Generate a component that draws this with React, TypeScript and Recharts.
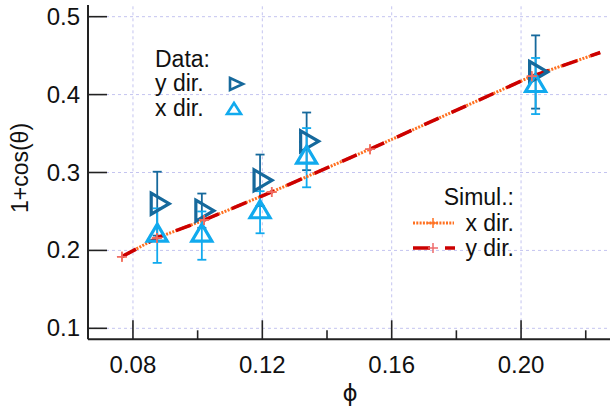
import React from 'react';
import {
    ComposedChart,
    Scatter,
    Line,
    XAxis,
    YAxis,
    ErrorBar,
    ReferenceLine,
} from 'recharts';

// measured data (phi, 1+cos(theta))
const dataPhi = [0.0875, 0.1013, 0.1193, 0.1337, 0.2045];
const yDirVal = [0.26, 0.251, 0.29, 0.34, 0.429];
const yDirErr = [0.041, 0.022, 0.033, 0.037, 0.047];
const xDirVal = [0.219, 0.219, 0.249, 0.319, 0.411];
const xDirErr = [0.035, 0.031, 0.027, 0.038, 0.036];

// simulations
const simPhi = [0.0766, 0.0874, 0.102, 0.1229, 0.1533, 0.2033, 0.2245];
const simXDir = [0.192, 0.216, 0.239, 0.275, 0.33, 0.4235, 0.454];
const simYDir = [0.192, 0.216, 0.239, 0.275, 0.33, 0.4235, 0.454];

const xTicks = [0.08, 0.1, 0.12, 0.14, 0.16, 0.18, 0.2, 0.22];
const xTickLabels = [0.08, 0.12, 0.16, 0.2];
const yTicks = [0.1, 0.2, 0.3, 0.4, 0.5];

const W = 610;
const H = 412;
const FONT = '"Liberation Sans", Arial, sans-serif';
const FRAME = '#222';
const GRID = '#c4c4f0';
const C_YDIR = '#16699c';
const C_XDIR = '#11aaee';
const C_SIMX = '#ff7020';
const C_SIMY = '#cc0000';
const C_SIMY_MK = '#ee6a6a';

const yDirData = dataPhi.map((p, i) => ({ phi: p, v: yDirVal[i], err: yDirErr[i] }));
const xDirData = dataPhi.map((p, i) => ({ phi: p, v: xDirVal[i], err: xDirErr[i] }));
const simXData = simPhi.map((p, i) => ({ phi: p, v: simXDir[i] }));
const simYData = simPhi.map((p, i) => ({ phi: p, v: simYDir[i] }));

const isLabel = (v: number) => xTickLabels.some((t) => Math.abs(t - v) < 1e-9);

function BottomTick(props: any) {
    const { x, y, payload } = props;
    const major = isLabel(payload.value);
    return (
        <g>
            <line x1={x} x2={x} y1={y} y2={y - (major ? 19 : 9)} stroke={FRAME} strokeWidth={1.6} />
            {major && (
                <text x={x} y={y + 34} textAnchor="middle" fontFamily={FONT} fontSize={24} fill="#111">
                    {payload.value.toFixed(2)}
                </text>
            )}
        </g>
    );
}

function TopTick(props: any) {
    const { x, y, payload } = props;
    const major = isLabel(payload.value);
    return <line x1={x} x2={x} y1={y} y2={y + (major ? 19 : 9)} stroke={FRAME} strokeWidth={1.6} />;
}

function LeftTick(props: any) {
    const { x, y, payload } = props;
    return (
        <g>
            <line x1={x} x2={x + 19} y1={y} y2={y} stroke={FRAME} strokeWidth={1.6} />
            <text x={x - 8} y={y + 8} textAnchor="end" fontFamily={FONT} fontSize={24} fill="#111">
                {payload.value.toFixed(1)}
            </text>
        </g>
    );
}

function RightTick(props: any) {
    const { x, y } = props;
    return <line x1={x} x2={x - 19} y1={y} y2={y} stroke={FRAME} strokeWidth={1.6} />;
}

function RightTri(props: any) {
    const { cx, cy } = props;
    if (cx == null || cy == null) return null;
    return (
        <path
            d={`M${cx - 6},${cy - 10.5} L${cx + 12},${cy} L${cx - 6},${cy + 10.5} Z`}
            fill="none"
            stroke={C_YDIR}
            strokeWidth={3.2}
        />
    );
}

function UpTri(props: any) {
    const { cx, cy } = props;
    if (cx == null || cy == null) return null;
    return (
        <path
            d={`M${cx},${cy - 11.5} L${cx + 10},${cy + 5.5} L${cx - 10},${cy + 5.5} Z`}
            fill="none"
            stroke={C_XDIR}
            strokeWidth={3.2}
        />
    );
}

const plusDot = (color: string) => (props: any) => {
    const { cx, cy, index } = props;
    if (cx == null || cy == null || index === simPhi.length - 1) return <g key={`p${index}`} />;
    return (
        <g key={`p${index}`}>
            <line x1={cx - 5} x2={cx + 5} y1={cy} y2={cy} stroke={color} strokeWidth={1.5} />
            <line x1={cx} x2={cx} y1={cy - 5} y2={cy + 5} stroke={color} strokeWidth={1.5} />
        </g>
    );
};

function Legends() {
    const txt = { fontFamily: FONT, fontSize: 23, fill: '#111' };
    return (
        <svg width={W} height={H} style={{ position: 'absolute', left: 0, top: 0, pointerEvents: 'none' }}>
            {/* data key */}
            <text x={155} y={67} {...txt}>Data:</text>
            <text x={155} y={91} {...txt}>y dir.</text>
            <text x={155} y={116} {...txt}>x dir.</text>
            <path d="M230,78 L243,84 L230,90 Z" fill="none" stroke={C_YDIR} strokeWidth={2.6} />
            <path d="M234,103 L241,114 L227,114 Z" fill="none" stroke={C_XDIR} strokeWidth={2.6} />

            {/* simulation key */}
            <text x={514} y={205} textAnchor="end" {...txt}>Simul.:</text>
            <text x={514} y={231} textAnchor="end" {...txt}>x dir.</text>
            <text x={514} y={256} textAnchor="end" {...txt}>y dir.</text>
            <line x1={413} x2={454} y1={223} y2={223} stroke={C_SIMX} strokeWidth={3} strokeDasharray="2 1.3" />
            <line x1={428} x2={438} y1={223} y2={223} stroke={C_SIMX} strokeWidth={1.5} />
            <line x1={433} x2={433} y1={218} y2={228} stroke={C_SIMX} strokeWidth={1.5} />
            <line x1={413} x2={455} y1={248} y2={248} stroke={C_SIMY} strokeWidth={3.5} strokeDasharray="17 15" />
            <line x1={428} x2={438} y1={248} y2={248} stroke={C_SIMY_MK} strokeWidth={1.5} />
            <line x1={433} x2={433} y1={243} y2={253} stroke={C_SIMY_MK} strokeWidth={1.5} />

            {/* axis titles */}
            <text x={0} y={0} transform="translate(28,168) rotate(-90)" textAnchor="middle" {...txt}>
                1+cos(θ)
            </text>
            <text x={350} y={401} textAnchor="middle" fontFamily='"DejaVu Sans", sans-serif' fontSize={23} fill="#111">
                ϕ
            </text>
        </svg>
    );
}

export default function App() {
    return (
        <div style={{ position: 'absolute', left: 0, top: 0, width: W, height: H, background: '#fff' }}>
            <ComposedChart width={W} height={H} margin={{ top: 5, right: 0, bottom: 0, left: 0 }}>
                <XAxis
                    xAxisId="b"
                    dataKey="phi"
                    type="number"
                    domain={[0.0661, 0.2275]}
                    ticks={xTicks}
                    allowDataOverflow
                    height={72.7}
                    tickSize={0}
                    tickMargin={0}
                    tickLine={false}
                    tick={<BottomTick />}
                    axisLine={{ stroke: FRAME, strokeWidth: 2 }}
                    interval={0}
                />
                <XAxis
                    xAxisId="t"
                    orientation="top"
                    dataKey="phi"
                    type="number"
                    domain={[0.0661, 0.2275]}
                    ticks={xTicks}
                    allowDataOverflow
                    height={0}
                    tickSize={0}
                    tickMargin={0}
                    tickLine={false}
                    tick={<TopTick />}
                    axisLine={{ stroke: FRAME, strokeWidth: 2 }}
                    interval={0}
                />
                <YAxis
                    yAxisId="l"
                    type="number"
                    domain={[0.0859, 0.515]}
                    ticks={yTicks}
                    allowDataOverflow
                    width={88}
                    tickSize={0}
                    tickMargin={0}
                    tickLine={false}
                    tick={<LeftTick />}
                    axisLine={{ stroke: FRAME, strokeWidth: 2 }}
                    interval={0}
                />
                <YAxis
                    yAxisId="r"
                    orientation="right"
                    type="number"
                    domain={[0.0859, 0.515]}
                    ticks={yTicks}
                    allowDataOverflow
                    width={0}
                    tickSize={0}
                    tickMargin={0}
                    tickLine={false}
                    tick={<RightTick />}
                    axisLine={{ stroke: FRAME, strokeWidth: 2 }}
                    interval={0}
                />

                {xTickLabels.map((t) => (
                    <ReferenceLine key={`gx${t}`} xAxisId="b" yAxisId="l" x={t} stroke={GRID} strokeDasharray="3 3" />
                ))}
                {yTicks.map((t) => (
                    <ReferenceLine key={`gy${t}`} xAxisId="b" yAxisId="l" y={t} stroke={GRID} strokeDasharray="3 3" />
                ))}

                <Scatter
                    xAxisId="b"
                    yAxisId="l"
                    data={yDirData}
                    dataKey="v"
                    shape={<RightTri />}
                    isAnimationActive={false}
                >
                    <ErrorBar dataKey="err" direction="y" width={4.5} stroke={C_YDIR} strokeWidth={1.8} />
                </Scatter>
                <Scatter
                    xAxisId="b"
                    yAxisId="l"
                    data={xDirData}
                    dataKey="v"
                    shape={<UpTri />}
                    isAnimationActive={false}
                >
                    <ErrorBar dataKey="err" direction="y" width={4.5} stroke={C_XDIR} strokeWidth={1.8} />
                </Scatter>

                <Line
                    xAxisId="b"
                    yAxisId="l"
                    data={simXData}
                    dataKey="v"
                    type="linear"
                    stroke={C_SIMX}
                    strokeWidth={3}
                    strokeDasharray="2 1.3"
                    dot={plusDot(C_SIMX)}
                    activeDot={false}
                    isAnimationActive={false}
                />
                <Line
                    xAxisId="b"
                    yAxisId="l"
                    data={simYData}
                    dataKey="v"
                    type="linear"
                    stroke={C_SIMY}
                    strokeWidth={3.5}
                    strokeDasharray="16 14"
                    dot={plusDot(C_SIMY_MK)}
                    activeDot={false}
                    isAnimationActive={false}
                />
            </ComposedChart>
            <Legends />
        </div>
    );
}
